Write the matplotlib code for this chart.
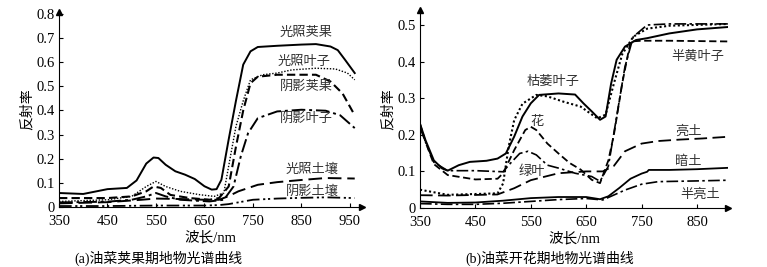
import numpy as np
import matplotlib
matplotlib.use("Agg")
import matplotlib.pyplot as plt

plt.rcParams['font.family'] = ['Liberation Serif', 'Noto Sans CJK SC']
plt.rcParams['axes.unicode_minus'] = False

# ---- (a) pod stage ----
pod_sun_x = [350, 400, 450, 490, 510, 530, 545, 555, 570, 590, 610, 630, 650, 665, 675, 685,
             700, 715, 730, 745, 760, 800, 850, 880, 910, 925, 940, 960]
pod_sun_y = [.058, .054, .074, .079, .11, .18, .205, .203, .175, .148, .134, .116, .086, .072, .074, .113,
             .28, .44, .59, .645, .663, .668, .673, .675, .665, .65, .61, .555]

leaf_sun_x = [350, 450, 500, 530, 550, 570, 600, 640, 670, 690, 700, 715, 730, 745, 770, 800,
              830, 880, 920, 945, 960]
leaf_sun_y = [.023, .03, .044, .085, .106, .085, .065, .051, .044, .058, .17, .334, .44, .527, .548, .555,
              .568, .575, .572, .555, .527]

pod_shade_x = [350, 450, 500, 530, 545, 560, 580, 620, 660, 680, 700, 715, 730, 745, 760, 800,
               850, 880, 910, 935, 960]
pod_shade_y = [.037, .037, .044, .065, .085, .079, .05, .037, .03, .037, .085, .25, .40, .513, .54, .548,
               .548, .548, .52, .47, .38]

leaf_shade_x = [350, 450, 500, 530, 550, 570, 600, 660, 690, 710, 725, 740, 760, 800, 850, 900, 930, 960]
leaf_shade_y = [.019, .022, .03, .044, .058, .044, .03, .023, .03, .085, .21, .306, .368, .396, .403, .399,
                .38, .327]

soil_sun_x = [350, 450, 520, 550, 600, 650, 680, 700, 720, 760, 800, 850, 900, 960]
soil_sun_y = [.015, .02, .03, .035, .033, .03, .03, .045, .065, .092, .103, .112, .12, .118]

soil_shade_x = [350, 450, 550, 650, 680, 700, 750, 800, 850, 900, 960]
soil_shade_y = [.004, .004, .006, .006, .008, .012, .03, .035, .038, .04, .037]

# ---- (b) flowering stage ----
wither_x = [350, 360, 375, 390, 400, 420, 440, 470, 490, 505, 520, 535, 550, 565, 600, 630, 645,
            660, 675, 685, 695, 705, 720, 740, 760, 800, 850, 910]
wither_y = [.23, .185, .13, .108, .102, .117, .126, .129, .135, .149, .195, .25, .286, .309, .313, .31, .286,
            .264, .241, .25, .34, .405, .441, .459, .464, .477, .488, .495]

flower_x = [350, 400, 490, 500, 510, 520, 535, 560, 580, 610, 640, 670, 685, 700, 715, 735, 760, 800, 910]
flower_y = [.05, .036, .04, .067, .167, .24, .285, .309, .305, .29, .277, .245, .255, .34, .42, .468,
            .49, .498, .503]

yellow_x = [350, 360, 375, 400, 450, 490, 500, 520, 540, 550, 560, 580, 600, 620, 640, 660, 675,
            690, 700, 715, 730, 750, 800, 910]
yellow_y = [.23, .18, .12, .09, .078, .08, .095, .158, .213, .222, .213, .176, .149, .123, .105, .077, .068,
            .13, .2, .34, .455, .457, .457, .455]

green_x = [350, 360, 375, 400, 450, 500, 510, 530, 545, 560, 580, 600, 630, 660, 675, 690, 705,
           720, 735, 760, 800, 910]
green_y = [.22, .18, .125, .102, .102, .099, .117, .149, .155, .145, .117, .109, .095, .086, .073, .114, .25,
           .386, .468, .5, .503, .503]

bright_x = [350, 400, 490, 520, 550, 600, 650, 680, 700, 720, 750, 780, 820, 860, 910]
bright_y = [.035, .034, .037, .054, .076, .095, .1, .1, .115, .155, .176, .183, .187, .19, .195]

dark_x = [350, 400, 450, 500, 550, 600, 650, 675, 690, 710, 730, 750, 760, 763, 800, 850, 910]
dark_y = [.018, .014, .015, .02, .027, .03, .03, .024, .032, .055, .08, .094, .099, .104, .104, .106, .11]

semi_x = [350, 400, 450, 500, 550, 600, 650, 680, 720, 750, 780, 850, 910]
semi_y = [.012, .01, .01, .013, .018, .023, .026, .022, .049, .065, .072, .074, .076]

a_xticks = [350, 450, 550, 650, 750, 850, 950]
a_yticks = [0, 0.1, 0.2, 0.3, 0.4, 0.5, 0.6, 0.7, 0.8]
b_xticks = [350, 450, 550, 650, 750, 850]
b_yticks = [0, 0.1, 0.2, 0.3, 0.4, 0.5]

SOLID = '-'
DOT = (0, (1, 1.2))
DASH = (0, (4, 2))
LDASH = (0, (7, 3))
DDOT = (0, (7, 2, 1.5, 2))
DDDOT = (0, (7, 2, 1.2, 1.5, 1.2, 2))

fig = plt.figure(figsize=(7.67, 2.67), dpi=100)
ax1 = fig.add_axes([59 / 767, 60 / 267, 303 / 767, 195 / 267])
ax2 = fig.add_axes([420 / 767, 59 / 267, 308 / 767, 198 / 267])

lc = 'black'
ax1.plot(pod_sun_x, pod_sun_y, color=lc, lw=1.4, ls=SOLID)
ax1.plot(leaf_sun_x, leaf_sun_y, color=lc, lw=1.0, ls=DOT)
ax1.plot(pod_shade_x, pod_shade_y, color=lc, lw=1.5, ls=DASH)
ax1.plot(leaf_shade_x, leaf_shade_y, color=lc, lw=1.4, ls=DDOT)
ax1.plot(soil_sun_x, soil_sun_y, color=lc, lw=1.4, ls=LDASH)
ax1.plot(soil_shade_x, soil_shade_y, color=lc, lw=1.3, ls=DDDOT)

ax2.plot(wither_x, wither_y, color=lc, lw=1.4, ls=SOLID)
ax2.plot(flower_x, flower_y, color=lc, lw=1.5, ls=DOT)
ax2.plot(yellow_x, yellow_y, color=lc, lw=1.3, ls=DASH)
ax2.plot(green_x, green_y, color=lc, lw=1.2, ls=DDOT)
ax2.plot(bright_x, bright_y, color=lc, lw=1.3, ls=LDASH)
ax2.plot(dark_x, dark_y, color=lc, lw=1.3, ls=SOLID)
ax2.plot(semi_x, semi_y, color=lc, lw=1.2, ls=DDOT)

ax1.set_xlim(350, 975)
ax1.set_ylim(0, 0.808)
ax2.set_xlim(350, 906)
ax2.set_ylim(0, 0.541)

for ax, xt, yt in [(ax1, a_xticks, a_yticks), (ax2, b_xticks, b_yticks)]:
    ax.set_xticks(xt)
    ax.set_yticks(yt)
    ax.set_yticklabels(['0'] + ['%.1f' % v for v in yt[1:]])
    ax.spines['top'].set_visible(False)
    ax.spines['right'].set_visible(False)
    ax.tick_params(direction='in', length=3, width=0.8, labelsize=10.5)
    ax.tick_params(axis='x', pad=6)
    ax.tick_params(axis='y', pad=3)
    ax.plot(1, 0, '>', color='black', markersize=5, transform=ax.transAxes, clip_on=False)
    ax.plot(0, 1, '^', color='black', markersize=5, transform=ax.transAxes, clip_on=False)
    ax.set_xlabel('波长/nm', fontsize=10.5, labelpad=2)
    ax.set_ylabel('反射率', fontsize=10, labelpad=2)

tc = '#333333'
fs = 9.5
for txt, x, y in [('光照荚果', 859, 0.721), ('光照叶子', 855, 0.60), ('阴影荚果', 861, 0.497),
                  ('阴影叶子', 861, 0.365), ('光照土壤', 872, 0.157), ('阴影土壤', 872, 0.066)]:
    ax1.text(x, y, txt, ha='center', va='center', fontsize=fs, color=tc)

for txt, x, y in [('枯萎叶子', 590, 0.344), ('花', 561, 0.235), ('绿叶', 552, 0.098),
                  ('半黄叶子', 852, 0.413), ('亮土', 834, 0.208), ('暗土', 834, 0.126),
                  ('半亮土', 855, 0.036)]:
    ax2.text(x, y, txt, ha='center', va='center', fontsize=fs, color=tc)

fig.text(158 / 767, 1 - 258 / 267, '(a)油菜荚果期地物光谱曲线', ha='center', va='center', fontsize=10)
fig.text(550 / 767, 1 - 258 / 267, '(b)油菜开花期地物光谱曲线', ha='center', va='center', fontsize=10)

fig.savefig('out.png', dpi=100)
